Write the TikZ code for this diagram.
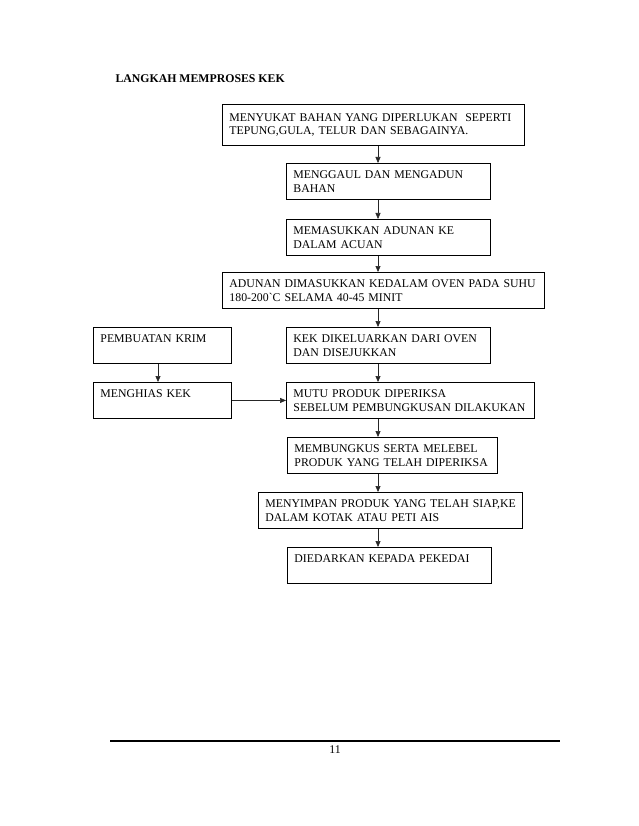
\documentclass[tikz,border=0pt]{standalone}
\usepackage{fontspec}
\setmainfont{Liberation Serif}
\usetikzlibrary{arrows.meta}
\tikzset{
  box/.style={draw, line width=0.9pt, anchor=north west, align=left,
    inner xsep=7pt, inner ysep=0pt, minimum height=36pt,
    font=\fontsize{11.8}{13.6}\selectfont},
  arr/.style={line width=0.6pt, draw=black!85,
    -{Triangle[length=6pt,width=5pt]}},
  txt/.style={font=\fontsize{11.8}{13.6}\selectfont}
}
\begin{document}
\begin{tikzpicture}[x=1pt,y=-1pt]
\useasboundingbox (0,0) rectangle (638,826);
\fill[white] (0,0) rectangle (638,826);

\node[txt, anchor=base west, font=\fontsize{11.8}{13.6}\selectfont\bfseries] (title) at (112,83) {LANGKAH MEMPROSES KEK};

% main column
\node[box, minimum width=302pt, text width=288pt, minimum height=41pt] (b1) at (222,104)
  {\mbox{MENYUKAT BAHAN YANG DIPERLUKAN\ \ SEPERTI}\\\mbox{TEPUNG,GULA, TELUR DAN SEBAGAINYA.}};
\node[box, minimum width=204pt, text width=190pt] (b2) at (286,163)
  {\mbox{MENGGAUL DAN MENGADUN}\\\mbox{BAHAN}};
\node[box, minimum width=204pt, text width=190pt] (b3) at (286,219)
  {\mbox{MEMASUKKAN ADUNAN KE}\\\mbox{DALAM ACUAN}};
\node[box, minimum width=322pt, text width=308pt] (b4) at (222,272)
  {\mbox{ADUNAN DIMASUKKAN KEDALAM OVEN PADA SUHU}\\\mbox{180-200\textasciigrave C SELAMA 40-45 MINIT}};
\node[box, minimum width=204pt, text width=190pt] (b5) at (286,327)
  {\mbox{KEK DIKELUARKAN DARI OVEN}\\\mbox{DAN DISEJUKKAN}};
\node[box, minimum width=248pt, text width=234pt] (b6) at (286,382)
  {\mbox{MUTU PRODUK DIPERIKSA}\\\mbox{SEBELUM PEMBUNGKUSAN DILAKUKAN}};
\node[box, minimum width=210pt, text width=196pt] (b7) at (287,437)
  {\mbox{MEMBUNGKUS SERTA MELEBEL}\\\mbox{PRODUK YANG TELAH DIPERIKSA}};
\node[box, minimum width=264pt, text width=250pt] (b8) at (258,492)
  {\mbox{MENYIMPAN PRODUK YANG TELAH SIAP,KE}\\\mbox{DALAM KOTAK ATAU PETI AIS}};
\node[box, minimum width=204pt, text width=190pt] (b9) at (287,547)
  {\mbox{DIEDARKAN KEPADA PEKEDAI}\\\mbox{}};

% side column
\node[box, minimum width=138pt, text width=124pt] (l1) at (93,327)
  {\mbox{PEMBUATAN KRIM}\\\mbox{}};
\node[box, minimum width=138pt, text width=124pt] (l2) at (93,382)
  {\mbox{MENGHIAS KEK}\\\mbox{}};

% arrow columns
\coordinate (ax) at (378,0);
\coordinate (lx) at (158,0);

\draw[arr] (b1.south -| ax) -- (b2.north -| ax);
\draw[arr] (b2.south -| ax) -- (b3.north -| ax);
\draw[arr] (b3.south -| ax) -- (b4.north -| ax);
\draw[arr] (b4.south -| ax) -- (b5.north -| ax);
\draw[arr] (b5.south -| ax) -- (b6.north -| ax);
\draw[arr] (b6.south -| ax) -- (b7.north -| ax);
\draw[arr] (b7.south -| ax) -- (b8.north -| ax);
\draw[arr] (b8.south -| ax) -- (b9.north -| ax);
\draw[arr] (l1.south -| lx) -- (l2.north -| lx);
\draw[arr] (l2.east) -- (b6.west |- l2.east);

% footer
\coordinate (fl) at (110,741);
\coordinate (fr) at (560,741);
\draw[line width=1.3pt] (fl) -- (fr);
\node[txt, anchor=base] (pg) at (335,753) {11};
\end{tikzpicture}
\end{document}
